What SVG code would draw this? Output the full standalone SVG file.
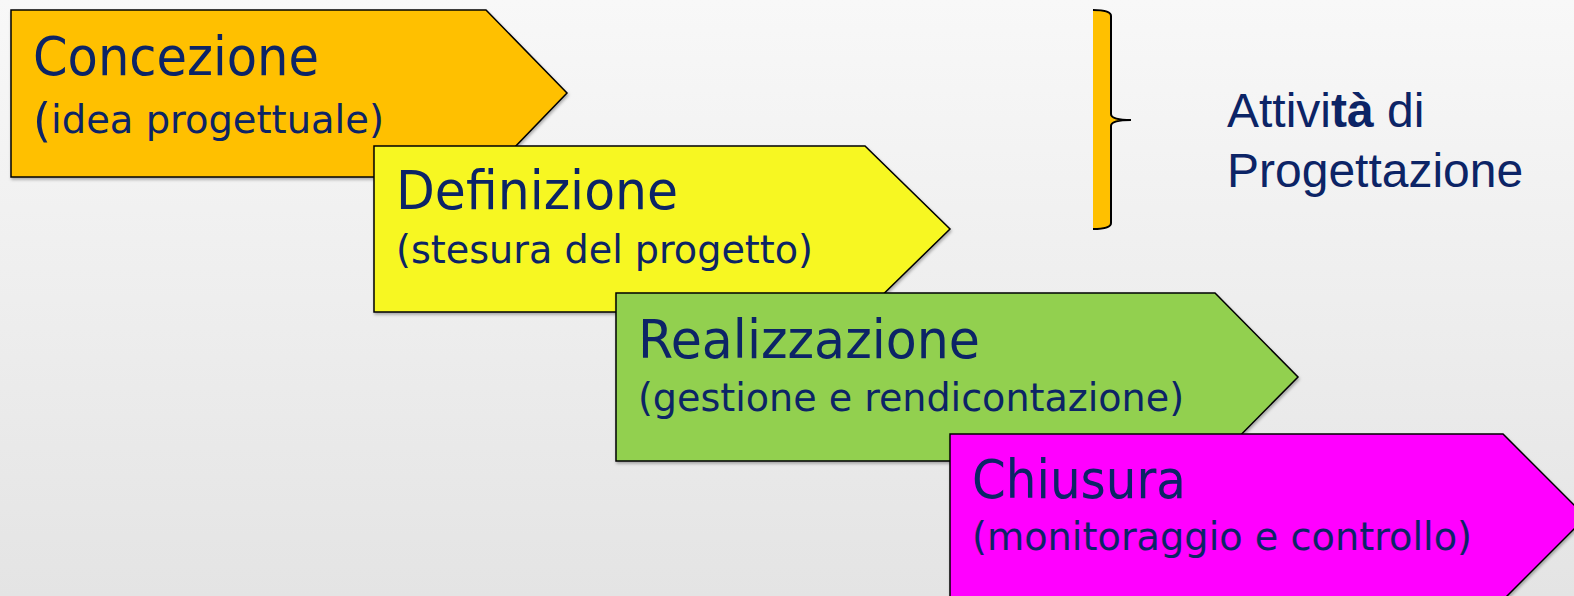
<svg xmlns="http://www.w3.org/2000/svg" width="1574" height="596" viewBox="0 0 1574 596">
<defs>
<linearGradient id="bg" x1="0" y1="0" x2="0" y2="1">
<stop offset="0" stop-color="#f8f8f8"/>
<stop offset="1" stop-color="#e4e4e4"/>
</linearGradient>
<filter id="sh" x="-5%" y="-5%" width="110%" height="115%">
<feDropShadow dx="1" dy="2" stdDeviation="1.5" flood-color="#000" flood-opacity="0.3"/>
</filter>
</defs>
<style>
.box{stroke:#000;stroke-width:1.5;filter:url(#sh)}
.t1{font-family:"DejaVu Sans Condensed","DejaVu Sans",sans-serif;font-stretch:condensed;font-size:53px;fill:#0c2466}
.t2{font-family:"DejaVu Sans Condensed","DejaVu Sans",sans-serif;font-stretch:condensed;font-size:39px;fill:#0c2466}
.t3{font-family:"Liberation Sans",Arial,sans-serif;font-size:48px;fill:#0c2466}
</style>
<rect width="1574" height="596" fill="url(#bg)"/>
<g id="concezione">
<path class="box" d="M11,10 H486 L567,93 L486,177 H11 Z" fill="#ffc000"/>
<text class="t1" x="33" y="75" textLength="286" lengthAdjust="spacingAndGlyphs">Concezione</text>
<text class="t2" x="33" y="133" textLength="351" lengthAdjust="spacingAndGlyphs"><tspan font-size="47" dy="3">(</tspan><tspan dy="-3">idea progettuale)</tspan></text>
</g>
<g id="definizione">
<path class="box" d="M374,146 H865 L950,229 L865,312 H374 Z" fill="#f7f722"/>
<text class="t1" x="396" y="209" textLength="282" lengthAdjust="spacingAndGlyphs">Definizione</text>
<text class="t2" x="396" y="263" textLength="417" lengthAdjust="spacingAndGlyphs">(stesura del progetto)</text>
</g>
<g id="realizzazione">
<path class="box" d="M616,293 H1215 L1298,377 L1215,461 H616 Z" fill="#92d050"/>
<text class="t1" x="638" y="358" textLength="342" lengthAdjust="spacingAndGlyphs">Realizzazione</text>
<text class="t2" x="638" y="411" textLength="546" lengthAdjust="spacingAndGlyphs">(gestione e rendicontazione)</text>
</g>
<g id="chiusura">
<path class="box" d="M950,434 H1503 L1586,517 L1503,600 H950 Z" fill="#ff00ff"/>
<text class="t1" x="972" y="498" textLength="214" lengthAdjust="spacingAndGlyphs">Chiusura</text>
<text class="t2" x="972" y="550" textLength="500" lengthAdjust="spacingAndGlyphs">(monitoraggio e controllo)</text>
</g>
<g id="brace">
<path d="M1093,10 Q1111,10 1111,16 V114 Q1111,120 1131,120 Q1111,120 1111,126 V223 Q1111,229 1093,229 Z" fill="#ffc000"/>
<path d="M1093,10 Q1111,10 1111,16 V114 Q1111,120 1131,120 Q1111,120 1111,126 V223 Q1111,229 1093,229" fill="none" stroke="#000" stroke-width="2"/>
</g>
<g id="attivita">
<text class="t3" x="1227" y="127">Attivi<tspan font-weight="bold">tà</tspan> di</text>
<text class="t3" x="1227" y="187">Progettazione</text>
</g>
</svg>
